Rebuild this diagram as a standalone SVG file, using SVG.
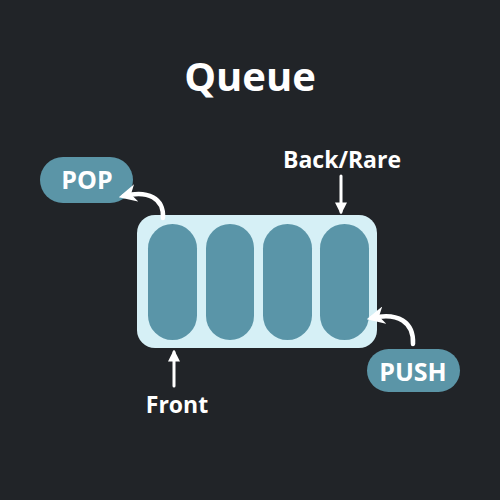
<svg xmlns="http://www.w3.org/2000/svg" width="500" height="500" viewBox="0 0 500 500">
<defs>
<style>
.t{font-family:"Open Sans","Liberation Sans",sans-serif;font-weight:bold;fill:#ffffff;text-anchor:middle}
.slot{fill:#5a95a8}
.pill{fill:#5b95a7}
.ln{stroke:#ffffff;stroke-width:3;fill:none;stroke-linecap:round}
.cv{stroke:#ffffff;stroke-width:4.5;fill:none;stroke-linecap:round}
</style>
<marker id="ah" viewBox="0 0 10 10" refX="8" refY="5" markerWidth="4" markerHeight="4" orient="auto">
<path d="M0,0 L10,5 L0,10 z" fill="#ffffff"/>
</marker>
<marker id="ah2" viewBox="0 0 10 10" refX="7" refY="5" markerWidth="4" markerHeight="4" orient="auto">
<path d="M0,0 L10,5 L0,10 L3,5 z" fill="#ffffff"/>
</marker>
</defs>
<rect width="500" height="500" fill="#212428"/>
<text class="t" x="250" y="91" font-size="40">Queue</text>
<g id="queue">
<rect x="137" y="215" width="240" height="133" rx="18" fill="#d6f0f6"/>
<rect class="slot" x="148" y="224" width="49" height="116" rx="24.5"/>
<rect class="slot" x="206" y="224" width="48" height="116" rx="24"/>
<rect class="slot" x="263" y="224" width="49" height="116" rx="24.5"/>
<rect class="slot" x="320" y="224" width="49" height="116" rx="24.5"/>
</g>
<g id="pop">
<rect class="pill" x="40" y="157" width="93" height="46" rx="23"/>
<text class="t" x="87" y="189" font-size="25">POP</text>
</g>
<g id="push">
<rect class="pill" x="367" y="349" width="93" height="43" rx="21.5"/>
<text class="t" x="413" y="381" font-size="25">PUSH</text>
</g>
<g id="back">
<text class="t" x="342" y="168" font-size="23">Back/Rare</text>
</g>
<g id="front">
<text class="t" x="177" y="413" font-size="23">Front</text>
</g>
<g id="connectors">
<line class="ln" x1="341" y1="176" x2="341" y2="212" marker-end="url(#ah)"/>
<line class="ln" x1="174" y1="386" x2="174" y2="352" marker-end="url(#ah)"/>
<path class="cv" d="M163,218 C164,198 148,190 124,196" marker-end="url(#ah2)"/>
<path class="cv" d="M413,344 C414,322 398,312 372,318" marker-end="url(#ah2)"/>
</g>
</svg>
